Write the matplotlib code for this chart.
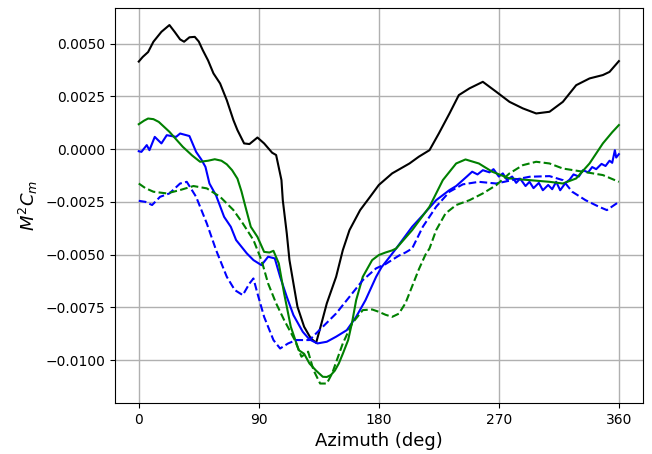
import matplotlib
matplotlib.use('Agg')
import matplotlib.pyplot as plt
import numpy as np

# values (y in units of 1e-3)
black_az = [0, 3, 7, 11, 17, 23, 27, 31, 34, 38, 42, 45, 48, 52, 56, 61, 66, 71, 74, 79, 83, 89, 94, 100, 103, 107,
            108, 111, 113, 116, 119, 124, 129, 133, 137, 141, 148, 153, 158, 166, 173, 180, 190, 203, 210, 218, 225,
            233, 240, 248, 258, 268, 278, 288, 298, 308, 318, 328, 338, 348, 353, 360]
black_cm = [4.15, 4.37, 4.6, 5.09, 5.56, 5.88, 5.55, 5.2, 5.09, 5.3, 5.32, 5.1, 4.69, 4.2, 3.59, 3.11, 2.32, 1.37, 0.9,
            0.27, 0.24, 0.55, 0.27, -0.17, -0.28, -1.47, -2.42, -4.0, -5.26, -6.37, -7.47, -8.42, -8.97, -9.18, -8.26,
            -7.31, -6.05, -4.79, -3.84, -2.89, -2.3, -1.7, -1.15, -0.68, -0.36, -0.05, 0.74, 1.69, 2.56, 2.88, 3.19,
            2.72, 2.24, 1.93, 1.69, 1.77, 2.24, 3.03, 3.35, 3.51, 3.66, 4.17]

blue_az = [0, 2, 6, 8, 12, 17, 21, 28, 31, 38, 43, 47, 50, 53, 58, 64, 69, 73, 81, 86, 92, 97, 102, 106, 111, 116,
           123, 128, 134, 141, 148, 156, 163, 170, 178, 182, 187, 193, 205, 213, 223, 233, 238, 243, 246, 250, 254,
           258, 263, 266, 270, 273, 276, 280, 283, 286, 290, 293, 296, 300, 303, 307, 310, 313, 316, 320, 323, 326,
           330, 333, 337, 340, 343, 347, 350, 353, 355, 357, 358, 360]
blue_cm = [-0.1, -0.13, 0.19, -0.05, 0.58, 0.27, 0.66, 0.58, 0.74, 0.62, -0.13, -0.5, -0.84, -1.63, -2.2, -3.21,
           -3.68, -4.31, -4.94, -5.26, -5.5, -5.1, -5.18, -6.05, -7.0, -7.87, -8.66, -9.02, -9.21, -9.13, -8.89,
           -8.58, -7.95, -7.16, -6.05, -5.6, -5.2, -4.71, -3.68, -3.13, -2.42, -1.94, -1.75, -1.47, -1.3, -1.07,
           -1.2, -1.0, -1.1, -0.95, -1.3, -1.15, -1.45, -1.3, -1.6, -1.4, -1.75, -1.55, -1.85, -1.6, -1.95, -1.7,
           -1.9, -1.55, -1.95, -1.6, -1.45, -1.2, -1.3, -1.0, -1.1, -0.85, -0.95, -0.7, -0.8, -0.55, -0.65, -0.05,
           -0.4, -0.24]

green_az = [0, 4, 7, 11, 15, 23, 33, 40, 46, 52, 57, 62, 66, 70, 74, 77, 80, 84, 89, 94, 98, 101, 105, 109, 114,
            120, 124, 128, 133, 138, 141, 144, 147, 150, 153, 157, 160, 163, 168, 175, 180, 185, 190, 193, 205, 218,
            228, 238, 245, 255, 265, 278, 293, 308, 318, 328, 338, 348, 355, 360]
green_cm = [1.18, 1.35, 1.45, 1.42, 1.29, 0.82, 0.11, -0.3, -0.6, -0.55, -0.48, -0.55, -0.72, -1.0, -1.4, -2.0,
            -2.73, -3.68, -4.16, -4.87, -4.9, -4.82, -5.42, -6.84, -8.42, -9.53, -9.7, -10.16, -10.5, -10.79, -10.8,
            -10.71, -10.5, -10.16, -9.7, -9.05, -8.2, -7.16, -6.05, -5.26, -5.02, -4.9, -4.8, -4.71, -3.84, -2.73,
            -1.47, -0.68, -0.49, -0.68, -1.07, -1.39, -1.47, -1.55, -1.63, -1.39, -0.68, 0.27, 0.8, 1.14]

blue_dash_az = [0, 5, 10, 16, 23, 31, 36, 43, 51, 58, 66, 72, 78, 83, 86, 89, 94, 101, 106, 112, 118, 128, 138,
                148, 158, 168, 178, 185, 190, 195, 200, 205, 213, 223, 233, 243, 255, 268, 280, 293, 308, 318, 325,
                335, 345, 351, 360]
blue_dash_cm = [-2.45, -2.5, -2.65, -2.26, -2.1, -1.63, -1.55, -2.26, -3.52, -4.79, -6.05, -6.68, -6.92, -6.37,
                -6.13, -6.84, -7.95, -9.05, -9.45, -9.21, -9.05, -9.05, -8.42, -7.79, -7.0, -6.21, -5.65, -5.45,
                -5.25, -5.05, -4.9, -4.71, -3.68, -2.73, -2.02, -1.67, -1.55, -1.63, -1.47, -1.31, -1.28, -1.47,
                -2.02, -2.42, -2.73, -2.89, -2.5]

green_dash_az = [0, 5, 11, 21, 31, 41, 51, 61, 71, 78, 86, 92, 97, 103, 109, 117, 122, 127, 131, 136, 141, 145,
                 153, 160, 168, 175, 180, 185, 190, 195, 200, 205, 210, 215, 218, 223, 230, 238, 248, 258, 268, 278,
                 288, 298, 308, 318, 333, 348, 360]
green_dash_cm = [-1.63, -1.85, -2.02, -2.1, -1.94, -1.75, -1.86, -2.26, -2.89, -3.52, -4.31, -5.26, -6.37, -7.31,
                 -8.1, -9.05, -9.84, -9.6, -10.47, -11.11, -11.11, -10.63, -9.21, -8.26, -7.63, -7.6, -7.71, -7.85,
                 -7.95, -7.8, -7.3, -6.5, -5.7, -5.0, -4.71, -3.84, -3.05, -2.65, -2.42, -2.1, -1.71, -1.15, -0.76,
                 -0.6, -0.68, -0.92, -1.07, -1.23, -1.55]

fig = plt.figure(figsize=(6.52, 4.54), dpi=100)
ax = fig.add_axes([0.176, 0.112, 0.81, 0.87])

ax.plot(black_az, np.array(black_cm) * 1e-3, 'k-', lw=1.5)
ax.plot(blue_az, np.array(blue_cm) * 1e-3, 'b-', lw=1.5)
ax.plot(green_az, np.array(green_cm) * 1e-3, 'g-', lw=1.5)
ax.plot(blue_dash_az, np.array(blue_dash_cm) * 1e-3, 'b--', lw=1.5)
ax.plot(green_dash_az, np.array(green_dash_cm) * 1e-3, 'g--', lw=1.5)

ax.set_xticks([0, 90, 180, 270, 360])
ax.set_yticks([-0.01, -0.0075, -0.005, -0.0025, 0, 0.0025, 0.005])
ax.set_ylim(-0.01204, 0.00668)
ax.grid(True, color='#b0b0b0', lw=1)
ax.set_xlabel('Azimuth (deg)', fontsize=13)
ax.set_ylabel('$M^2C_m$', fontsize=13)

plt.savefig('out.png', dpi=100)
